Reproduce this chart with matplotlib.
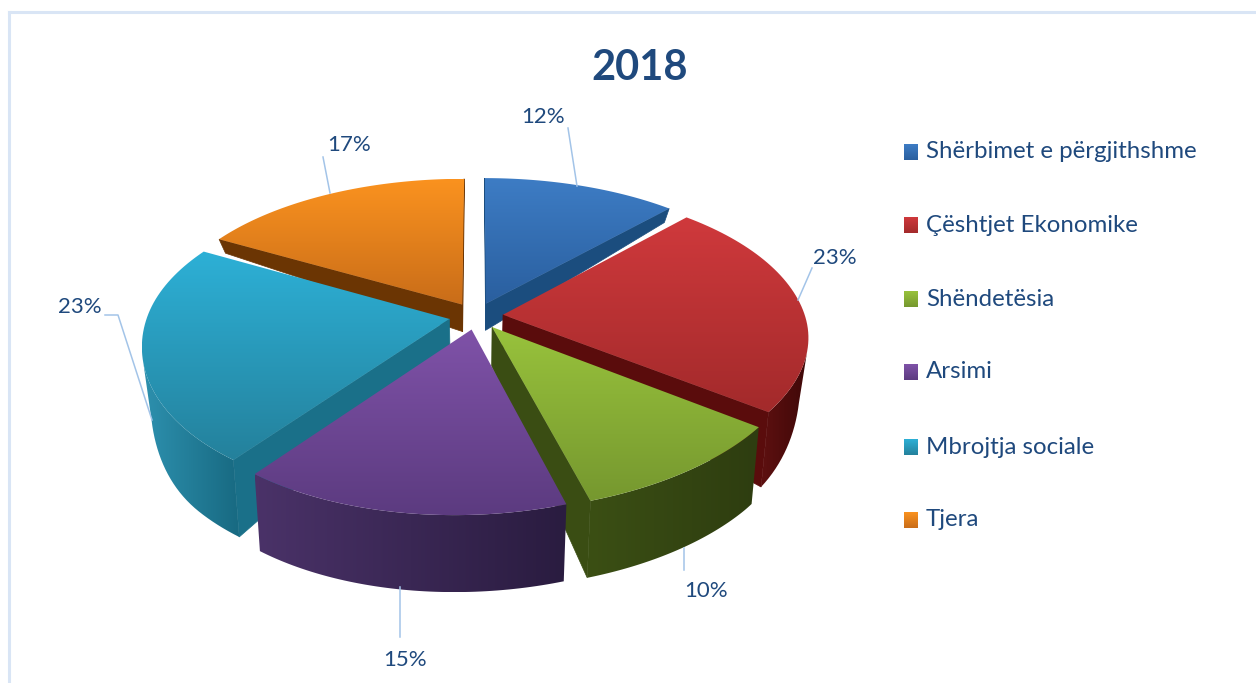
import numpy as np
import matplotlib
matplotlib.use('Agg')
import matplotlib.pyplot as plt
from matplotlib.colors import LinearSegmentedColormap
from matplotlib.patches import Polygon

categories = ['Shërbimet e përgjithshme', 'Çështjet Ekonomike', 'Shëndetësia',
              'Arsimi', 'Mbrojtja sociale', 'Tjera']
values = [12, 23, 10, 15, 23, 17]
chart_title = '2018'

# top face gradient (light, dark), outer wall gradient, radial wall colour
top_colors = [('#3d7cc4', '#2a5f9f'), ('#cf393c', '#a32a2b'), ('#98c23c', '#76982f'),
              ('#7f52a8', '#5c3b80'), ('#2db0d6', '#24819c'), ('#fa921f', '#c96d19')]
wall_colors = [('#1d4f80', '#1d4f80'), ('#5e1010', '#3f0808'), ('#3b4f14', '#2e3d10'),
               ('#4a3268', '#2a1c40'), ('#2d90ae', '#186a82'), ('#6b3503', '#6b3503')]
side_colors = ['#1b4d7e', '#5a0c0c', '#3a4d13', '#3a2755', '#1a7089', '#6b3503']

# label position and leader line for each slice, in pixels
label_pos = [(543, 117), (835, 258), (706, 591), (405, 660), (80, 307), (349, 145)]
leaders = [[(568, 128), (577, 186)], [(812, 268), (798, 300)], [(684, 548), (684, 570)],
           [(400, 587), (400, 637)], [(105, 315), (118, 315), (152, 420)],
           [(323, 157), (330, 193)]]
legend_y = [152, 225, 299, 372, 447, 520]

CX, CY = 476, 316
RX, RY = 302, 150
KX, KY = 0.15, 0.165
EXPLODE = 0.09


def project(u, v, h=0.0):
    conv = 1 - 0.025 * h
    x = CX + RX * u / (1 - KX * v) * conv - 14 * max(v, 0) ** 2
    # wall height grows quickly towards the viewer
    t = np.clip((v + 0.4) / 1.1, 0, 1)
    depth = 14 + 63 * t * t * (3 - 2 * t)
    y = CY + RY * v / (1 - KY * v) + h * depth
    return x, y


def gradient_fill(ax, pts, c0, c1, horizontal, z):
    pts = np.array(pts)
    cmap = LinearSegmentedColormap.from_list('g', [c0, c1])
    grad = np.linspace(0, 1, 64).reshape(-1, 1)
    if horizontal:
        grad = grad.T
    x0, y0 = pts.min(axis=0)
    x1, y1 = pts.max(axis=0)
    poly = Polygon(pts, closed=True, facecolor='none', edgecolor='none', zorder=z)
    ax.add_patch(poly)
    im = ax.imshow(grad, extent=[x0, x1, y1, y0], cmap=cmap, aspect='auto', zorder=z,
                   interpolation='bilinear')
    im.set_clip_path(poly)


def area(p):
    p = np.array(p)
    x, y = p[:, 0], p[:, 1]
    return np.sum(x * np.roll(y, -1) - np.roll(x, -1) * y)


fig = plt.figure(figsize=(12.56, 6.83), dpi=100, facecolor='white')
ax = fig.add_axes([0, 0, 1, 1])

edges = np.cumsum([0] + values) / sum(values) * 2 * np.pi
slices = []
for i in range(len(values)):
    mid = (edges[i] + edges[i + 1]) / 2
    slices.append((-np.cos(mid), i))

# back slices first, so the front ones paint over them
z = 3
for _, i in sorted(slices):
    a0, a1 = edges[i], edges[i + 1]
    mid = (a0 + a1) / 2
    ou, ov = EXPLODE * np.sin(mid), -EXPLODE * np.cos(mid)
    th = np.linspace(a0, a1, 60)
    us = np.concatenate([[ou], ou + np.sin(th)])
    vs = np.concatenate([[ov], ov - np.cos(th)])
    top = [project(u, v, 0) for u, v in zip(us, vs)]
    bot = [project(u, v, 1) for u, v in zip(us, vs)]
    n = len(top)

    # radial walls
    for a, b in [(0, 1), (n - 1, 0)]:
        quad = [top[a], top[b], bot[b], bot[a]]
        if area(quad) < 0:
            ax.add_patch(Polygon(quad, closed=True, facecolor=side_colors[i],
                                 edgecolor=side_colors[i], lw=0.5, zorder=z))
            z += 1

    # outer wall, only the part which faces the viewer
    front = [j for j in range(1, n - 1)
             if area([top[j], top[j + 1], bot[j + 1], bot[j]]) < 0]
    if front:
        j0, j1 = front[0], front[-1] + 1
        pts = top[j0:j1 + 1] + bot[j0:j1 + 1][::-1]
        gradient_fill(ax, pts, wall_colors[i][0], wall_colors[i][1], True, z)
        z += 1

    gradient_fill(ax, top, top_colors[i][0], top_colors[i][1], False, z)
    z += 1

text_color = '#1f497d'
line_color = '#a3c4e8'
for i, v in enumerate(values):
    xs, ys = zip(*leaders[i])
    ax.plot(xs, ys, color=line_color, lw=1.1, zorder=50)
    ax.text(label_pos[i][0], label_pos[i][1], f'{v}%', color=text_color, fontsize=16,
            family='Lato', ha='center', va='center', zorder=60)

ax.text(640, 68, chart_title, color=text_color, fontsize=30, family='Lato',
        fontweight='bold', ha='center', va='center')

for i, name in enumerate(categories):
    y = legend_y[i]
    gradient_fill(ax, [(904, y - 8), (918, y - 8), (918, y + 8), (904, y + 8)],
                  top_colors[i][0], top_colors[i][1], False, 70)
    ax.text(926, y, name, color=text_color, fontsize=17.3, family='Lato',
            ha='left', va='center')

# frame of the sheet: only top and left show up
ax.plot([9, 9], [683, 12], color='#d9e5f5', lw=2.2, zorder=1)
ax.plot([9, 1256], [12, 12], color='#d9e5f5', lw=2.2, zorder=1)

ax.set_xlim(0, 1256)
ax.set_ylim(683, 0)
ax.axis('off')
fig.savefig('out.png', dpi=100)
